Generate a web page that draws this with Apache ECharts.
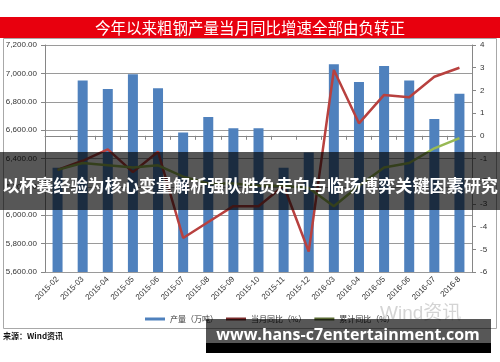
<!DOCTYPE html>
<html><head><meta charset="utf-8">
<script src="https://cdn.jsdelivr.net/npm/echarts@6/dist/echarts.min.js"></script>
<style>html,body{margin:0;padding:0;background:#fff}#c{width:500px;height:362px}</style>
</head><body><div id="c"></div>
<script>
const categories = ['2015-02','2015-03','2015-04','2015-05','2015-06','2015-07','2015-08','2015-09','2015-10','2015-11','2015-12','2016-03','2016-04','2016-05','2016-06','2016-07','2016-8'];
const output = [6334, 6949, 6890, 6994, 6895, 6583, 6693, 6613, 6613, 6334, 6442, 7064, 6939, 7052, 6949, 6679, 6857];
const monthYoY = [-1.5, -1.1, -0.6, -1.6, -0.7, -4.5, -3.8, -3.1, -3.1, -2.2, -5.1, 2.9, 0.55, 1.8, 1.7, 2.6, 3.0];
const cumYoY = [-1.5, -1.2, -1.3, -1.4, -1.3, -1.8, -2.1, -2.1, -2.2, -2.2, -2.3, -3.1, -2.2, -1.4, -1.2, -0.55, -0.1];
const seriesNames = ['产量（万吨）', '当月同比（%）', '累计同比（%）'];
const titleText = '今年以来粗钢产量当月同比增速全部由负转正';
const bannerText = '以杯赛经验为核心变量解析强队胜负走向与临场博弈关键因素研究';
const sourceText = '来源：Wind资讯';
const watermarkText = 'www.hans-c7entertainment.com';

const chart = echarts.init(document.getElementById('c'), null, {renderer:'canvas'});
const axisFont = {fontSize: 8, color: '#333', fontFamily: 'Liberation Sans, Arial, sans-serif'};
chart.setOption({
  animation: false,
  grid: {left: 45, right: 28, top: 45, bottom: 90, containLabel: false},
  legend: {
    bottom: 34, left: 140, itemWidth: 20, itemHeight: 3, itemGap: 8,
    textStyle: {fontSize: 8, color: '#333', fontFamily: 'Noto Sans CJK SC, sans-serif'},
    data: seriesNames.map(n => ({name: n, icon: 'rect'}))
  },
  xAxis: {
    type: 'category', data: categories, boundaryGap: true,
    axisLine: {lineStyle: {color: '#868686'}},
    axisTick: {show: true, length: 4, lineStyle: {color: '#868686'}},
    axisLabel: Object.assign({rotate: 45, margin: 6, interval: 0}, axisFont)
  },
  yAxis: [{
    type: 'value', min: 5600, max: 7200, interval: 200,
    axisLine: {show: true, lineStyle: {color: '#868686'}},
    axisTick: {show: true, length: 4, lineStyle: {color: '#868686'}},
    splitLine: {lineStyle: {color: '#9a9a9a', width: 1}},
    axisLabel: Object.assign({margin: 8, formatter: v => v.toLocaleString('en-US', {minimumFractionDigits: 2, maximumFractionDigits: 2})}, axisFont)
  }, {
    type: 'value', min: -6, max: 4, interval: 1, position: 'right',
    axisLine: {show: true, lineStyle: {color: '#868686'}},
    axisTick: {show: true, length: 4, lineStyle: {color: '#868686'}},
    splitLine: {show: false},
    axisLabel: Object.assign({margin: 8}, axisFont)
  }],
  series: [{
    name: seriesNames[0], type: 'bar', data: output, barWidth: 10,
    itemStyle: {color: '#4F81BD'}
  }, {
    name: seriesNames[1], type: 'line', yAxisIndex: 1, data: monthYoY, symbol: 'none',
    lineStyle: {color: '#B8413F', width: 2.5}, itemStyle: {color: '#7A2A2A'}
  }, {
    name: seriesNames[2], type: 'line', yAxisIndex: 1, data: cumYoY, symbol: 'none',
    lineStyle: {color: '#98B954', width: 2.5}, itemStyle: {color: '#5A6A34'}
  }],
  graphic: [
    {type: 'rect', z: -10, shape: {x: 3.5, y: 38.5, width: 493, height: 290}, style: {fill: 'none', stroke: '#a8a8a8', lineWidth: 1}},
    {type: 'rect', z: 50, shape: {x: 0, y: 17, width: 500, height: 21}, style: {fill: '#E8000E'}},
    {type: 'text', z: 51, x: 250, y: 28, style: {text: titleText, fill: '#fff', fontSize: 15.5, fontFamily: 'Noto Sans CJK SC, sans-serif', textAlign: 'center', textVerticalAlign: 'middle'}},
    {type: 'text', z: 5, x: 3, y: 336, style: {text: sourceText, fill: '#111', fontSize: 8, fontWeight: 'bold', fontFamily: 'Noto Sans CJK SC, sans-serif', textVerticalAlign: 'middle'}},
    {type: 'text', z: 5, x: 380, y: 314, style: {text: 'Wind资讯', fill: '#d4d4d4', fontSize: 19, fontFamily: 'Liberation Sans, Noto Sans CJK SC, sans-serif', textVerticalAlign: 'middle'}},
    {type: 'rect', z: 100, shape: {x: 0, y: 152, width: 500, height: 58}, style: {fill: 'rgba(0,0,0,0.66)'}},
    {type: 'text', z: 101, x: 250, y: 185, style: {text: bannerText, fill: '#fff', fontSize: 17.1, fontWeight: 'bold', fontFamily: 'Noto Sans CJK SC, sans-serif', textAlign: 'center', textVerticalAlign: 'middle'}},
    {type: 'rect', z: 100, shape: {x: 206, y: 319, width: 285, height: 24}, style: {fill: 'rgba(0,0,0,0.66)'}},
    {type: 'rect', z: 100, shape: {x: 206, y: 343, width: 285, height: 10}, style: {fill: '#000'}},
    {type: 'text', z: 101, x: 348, y: 335, style: {text: watermarkText, fill: '#fff', fontSize: 16, fontWeight: 'bold', fontFamily: 'Open Sans, DejaVu Sans, sans-serif', textAlign: 'center', textVerticalAlign: 'middle'}}
  ]
});
</script></body></html>
